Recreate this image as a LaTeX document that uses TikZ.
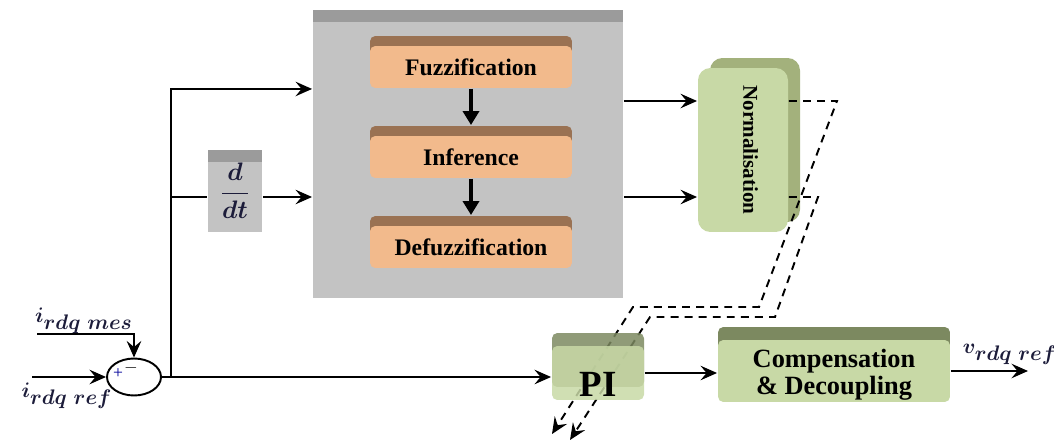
\documentclass[tikz,border=0pt]{standalone}
\usepackage{amsmath}
\usepackage{fontspec}
\setmainfont{Liberation Serif}
\usetikzlibrary{arrows.meta,shadows,shapes.geometric}

\definecolor{grayface}{HTML}{C3C3C3}
\definecolor{graytop}{HTML}{9B9B9B}
\definecolor{orangeface}{HTML}{F2BA8C}
\definecolor{orangetop}{HTML}{9A7253}
\definecolor{greenface}{HTML}{C8D9A6}
\definecolor{greentop}{HTML}{7C8960}
\definecolor{greenside}{HTML}{A3B17C}
\definecolor{sigcol}{HTML}{1C1C3A}

\begin{document}
\begin{tikzpicture}[x=0.02cm, y=-0.02cm, line width=1.1pt,
    >={Stealth[length=3.3mm, width=2.9mm, inset=1.2mm]},
    fuzzybox/.style={rounded corners=3pt, fill=orangeface, inner sep=0pt,
        minimum width=4.04cm, minimum height=0.84cm,
        font=\bfseries\fontsize{13.5}{15}\selectfont,
        general shadow={shadow yshift=2mm, fill=orangetop}},
    greenbox/.style={rounded corners=3pt, fill=greenface, inner sep=0pt,
        general shadow={shadow yshift=2.6mm, fill=greentop}},
    fat/.style={line width=2.8pt, -{Triangle[length=2.8mm, width=3.2mm]}},
    sig/.style={text=sigcol, font=\fontsize{13}{15}\selectfont\boldmath}]
  \useasboundingbox (0,0) rectangle (1054,442);

  % fuzzy controller
  \node[fill=grayface, minimum width=6.2cm, minimum height=5.52cm,
        general shadow={shadow yshift=2.4mm, fill=graytop}] (fis) at (468,160) {};
  \node[fuzzybox] (fuzz) at (471,67) {Fuzzification};
  \node[fuzzybox] (infer) at (471,157) {Inference};
  \node[fuzzybox] (defuzz) at (471,247) {Defuzzification};
  \draw[fat] (fuzz.south) -- ([yshift=2mm]infer.north);
  \draw[fat] (infer.south) -- ([yshift=2mm]defuzz.north);

  % derivative
  \node[fill=grayface, minimum width=1.08cm, minimum height=1.4cm, inner sep=0pt,
        text depth=18pt, text=sigcol, font=\fontsize{14}{16}\selectfont\boldmath,
        general shadow={shadow yshift=2.4mm, fill=graytop}] (ddt) at (235,197)
        {$\dfrac{d}{dt}$\hspace{4mm}};

  % normalisation
  \node[rounded corners=7pt, fill=greenface, minimum width=1.8cm, minimum height=3.28cm,
        inner sep=0pt, font=\bfseries\fontsize{12}{14}\selectfont,
        general shadow={shadow xshift=2.4mm, shadow yshift=2mm, fill=greenside}] (norm)
        at (743,150) {\hspace{3mm}\rotatebox{-90}{Normalisation}};

  % comparator
  \node[ellipse, draw, minimum width=1.08cm, minimum height=0.74cm, inner sep=0pt] (sum) at (134,377) {};
  \node[text=blue!60!black, font=\fontsize{10}{10}\selectfont, inner sep=0pt] (plus) at (118,374) {+};
  \node[font=\fontsize{10}{10}\selectfont, inner sep=0pt] (minus) at (131,368) {$-$};
  \node[sig] (imes) at (84,321) {$i_{\textstyle rdq\;mes}$};
  \node[sig] (iref) at (67,396) {$i_{\textstyle rdq\;ref}$};
  \coordinate (imesin) at (37,334);
  \coordinate (irefin) at (32,377);
  \coordinate (split) at (171,377);
  \draw[->] (imesin) -| (sum);
  \draw[->] (irefin) -- (sum);

  % feedback into the fuzzy controller
  \draw[->] (sum.east) -- (split) |- (fis.west |- fuzz.south);
  \draw (split |- ddt.west) -- (ddt.west);
  \draw[->] (ddt.east) -- (fis.west |- ddt.east);
  \draw[->] (fis.east |- 0,101) -- (norm.west |- 0,101);
  \draw[->] (fis.east |- ddt.east) -- (norm.west |- ddt.east);

  % gains sent to the PI
  \coordinate (na) at (837,101);
  \coordinate (nb) at (759,307);
  \coordinate (nc) at (633,307);
  \coordinate (nend) at (552,434);
  \coordinate (ma) at (818,197);
  \coordinate (mb) at (775,317);
  \coordinate (mc) at (650,317);
  \coordinate (mend) at (570,440);
  \draw[->, dash pattern=on 4.5pt off 3.5pt] (norm.east |- na) -- (na) -- (nb) -- (nc) -- (nend);
  \draw[->, dash pattern=on 4.5pt off 3.5pt] (norm.east |- ma) -- (ma) -- (mb) -- (mc) -- (mend);

  % PI and decoupling
  \node[greenbox, fill opacity=0.85, minimum width=1.84cm, minimum height=1.08cm,
        text height=27pt, text depth=0pt, text opacity=1,
        font=\bfseries\fontsize{21}{24}\selectfont] (pi) at (598,373) {PI};
  \node[greenbox, minimum width=4.64cm, minimum height=1.24cm,
        font=\bfseries\fontsize{15}{15.4}\selectfont] (comp) at (834,371)
        {\raisebox{-13.5pt}[0pt][0pt]{\begin{tabular}[b]{@{}c@{}}Compensation\\\& Decoupling\end{tabular}}};
  \coordinate (vout) at (1028,371);
  \node[sig] (vref) at (1010,354) {$v_{\textstyle rdq\;ref}$};

  \draw[->] (sum.east -| split) -- (sum.east -| pi.west);
  \draw[->] (pi.east) -- (comp.west |- pi.east);
  \draw[->] (comp.east) -- (vout);
\end{tikzpicture}
\end{document}
